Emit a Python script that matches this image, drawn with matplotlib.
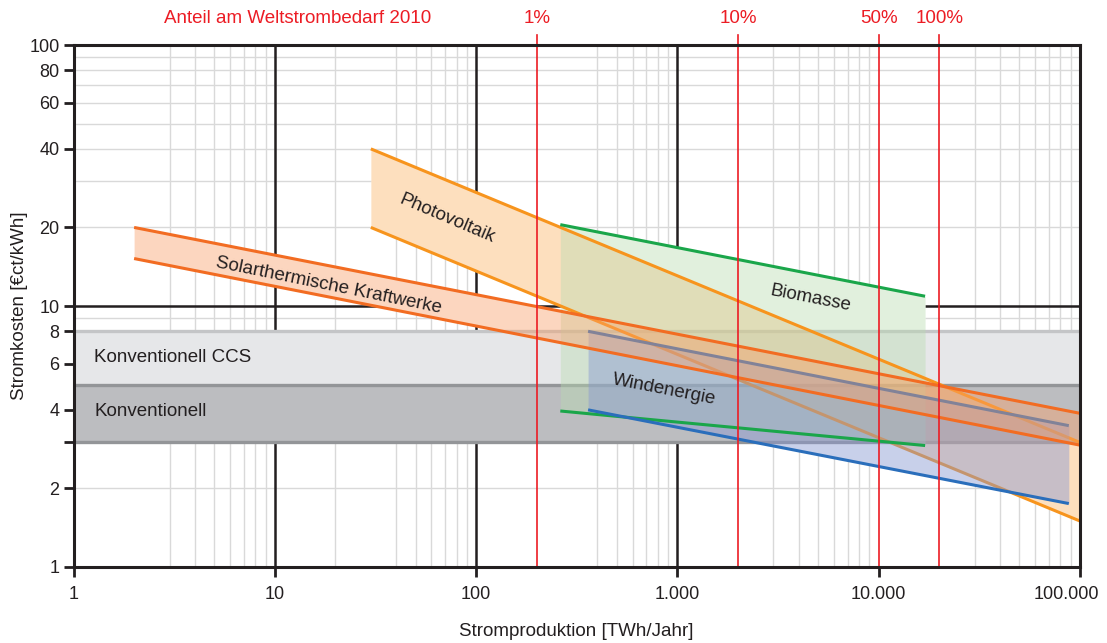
import matplotlib
matplotlib.use("Agg")
import matplotlib.pyplot as plt
import matplotlib.transforms as mtransforms
from matplotlib.ticker import FixedLocator, NullFormatter, NullLocator

plt.rcParams["font.family"] = ["Liberation Sans", "DejaVu Sans"]
plt.rcParams["font.size"] = 13

# Stromproduktion [TWh/Jahr] vs Stromkosten [ct/kWh]
solar_x = [2, 100000]
solar_lo = [15.2, 2.93]
solar_hi = [20.0, 3.88]

pv_x = [30, 100000]
pv_lo = [20.0, 1.5]
pv_hi = [40.0, 3.0]

bio_x = [262, 17000]
bio_lo = [3.96, 2.92]
bio_hi = [20.5, 10.9]

wind_x = [360, 88000]
wind_lo = [4.0, 1.75]
wind_hi = [8.0, 3.48]

ccs_band = [5, 8]
konv_band = [3, 5]

share_x = [200, 2000, 10000, 20000]
share_labels = ["1%", "10%", "50%", "100%"]

xticks = [1, 10, 100, 1000, 10000, 100000]
xtick_labels = ["1", "10", "100", "1.000", "10.000", "100.000"]
yticks = [1, 2, 3, 4, 6, 8, 10, 20, 40, 60, 80, 100]
ytick_labels = ["1", "2", "", "4", "6", "8", "10", "20", "40", "60", "80", "100"]

# light grid lines as drawn in the original (some steps are left out there)
grid_x = ([3, 4, 5, 6, 7, 8, 9] + [20, 40, 50, 60, 70, 80, 90]
          + [400, 500, 600, 700, 800, 900]
          + [3000, 4000, 5000, 6000, 7000, 8000, 9000]
          + [30000, 40000, 50000, 60000, 70000, 80000, 90000])
grid_y = [2, 3, 4, 5, 6, 7, 8, 9, 20, 30, 40, 50, 60, 70, 80, 90]

RED = "#ec1c24"
DARK = "#231f20"
FS = 13.5

fig = plt.figure(figsize=(11.07, 6.43), dpi=100)
ax = fig.add_axes([0.0664, 0.1182, 0.9092, 0.8118])
ax.set_xscale("log")
ax.set_yscale("log")
ax.set_xlim(1, 100000)
ax.set_ylim(1, 100)

for v in grid_x:
    ax.axvline(v, color="#d9d9d9", lw=1.0, zorder=0.5)
for v in grid_y:
    ax.axhline(v, color="#d9d9d9", lw=1.0, zorder=0.5)
# the 10.000 line is covered by the red 50% line
for v in [10, 100, 1000]:
    ax.axvline(v, color=DARK, lw=1.8, zorder=0.6)
ax.axhline(10, color=DARK, lw=1.8, zorder=0.6)

# white underlay: the bands hide the grid but stay see-through to each other
for x, lo, hi in [(pv_x, pv_lo, pv_hi), (bio_x, bio_lo, bio_hi),
                  (wind_x, wind_lo, wind_hi), (solar_x, solar_lo, solar_hi)]:
    ax.fill_between(x, lo, hi, color="white", lw=0, zorder=0.8)

# conventional bands
ax.axhspan(ccs_band[0], ccs_band[1], color="#e6e7e9", lw=0, zorder=1)
ax.axhspan(konv_band[0], konv_band[1], color="#bcbdc0", lw=0, zorder=1)
ax.axhline(ccs_band[1], color="#c4c5c7", lw=2.4, zorder=1.1)
ax.axhline(konv_band[1], color="#939598", lw=2.4, zorder=1.1)
ax.axhline(konv_band[0], color="#939598", lw=2.4, zorder=1.1)
ax.text(1.27, 6.35, "Konventionell CCS", fontsize=FS, color=DARK,
        va="center", zorder=1.2)
ax.text(1.27, 3.95, "Konventionell", fontsize=FS, color=DARK,
        va="center", zorder=1.2)


def fill(x, lo, hi, color, alpha, z):
    ax.fill_between(x, lo, hi, color=color, alpha=alpha, lw=0, zorder=z)


def edges(x, lo, hi, color, z):
    ax.plot(x, lo, color=color, lw=2.2, zorder=z, solid_capstyle="butt")
    ax.plot(x, hi, color=color, lw=2.2, zorder=z, solid_capstyle="butt")


# layering follows the original: PV and biomass fills, PV edges, wind fill,
# biomass and wind edges, then the solar thermal band on top
fill(pv_x, pv_lo, pv_hi, "#fbb466", 0.42, 2.0)
fill(bio_x, bio_lo, bio_hi, "#b9dcb0", 0.42, 2.1)
edges(pv_x, pv_lo, pv_hi, "#f7941d", 2.2)
fill(wind_x, wind_lo, wind_hi, "#8797d2", 0.45, 2.3)
edges(bio_x, bio_lo, bio_hi, "#1aa64a", 2.4)
edges(wind_x, wind_lo, wind_hi, "#2a6ebb", 2.4)
fill(solar_x, solar_lo, solar_hi, "#fa9f68", 0.42, 2.6)
edges(solar_x, solar_lo, solar_hi, "#f26c22", 2.7)

ax.text(72, 21.5, "Photovoltaik", fontsize=FS, color=DARK, rotation=-23,
        ha="center", va="center", rotation_mode="anchor", zorder=5)
ax.text(18.5, 12.0, "Solarthermische Kraftwerke", fontsize=FS, color=DARK,
        rotation=-11.5, ha="center", va="center", rotation_mode="anchor", zorder=5)
ax.text(4600, 10.7, "Biomasse", fontsize=FS, color=DARK, rotation=-11,
        ha="center", va="center", rotation_mode="anchor", zorder=5)
ax.text(860, 4.8, "Windenergie", fontsize=FS, color=DARK, rotation=-11,
        ha="center", va="center", rotation_mode="anchor", zorder=5)

# share of world electricity demand 2010
trans = mtransforms.blended_transform_factory(ax.transData, ax.transAxes)
for x, lab in zip(share_x, share_labels):
    ax.plot([x, x], [0, 1.02], transform=trans, color=RED, lw=1.2,
            clip_on=False, zorder=6)
    ax.text(x, 1.050, lab, transform=trans, color=RED, fontsize=FS,
            ha="center", va="center")
ax.text(13, 1.050, "Anteil am Weltstrombedarf 2010", transform=trans,
        color=RED, fontsize=FS, ha="center", va="center")

# axes styling
for s in ax.spines.values():
    s.set_color(DARK)
    s.set_linewidth(2.2)
    s.set_zorder(7)
ax.xaxis.set_major_locator(FixedLocator(xticks))
ax.set_xticklabels(xtick_labels[:-1] + [""])
ax.xaxis.set_minor_locator(NullLocator())
ax.xaxis.set_minor_formatter(NullFormatter())
ax.yaxis.set_major_locator(FixedLocator(yticks))
ax.set_yticklabels(ytick_labels)
ax.yaxis.set_minor_locator(NullLocator())
ax.yaxis.set_minor_formatter(NullFormatter())
ax.tick_params(axis="both", which="major", direction="out", length=7,
               width=2.0, color=DARK, labelcolor=DARK, labelsize=13)
ax.tick_params(axis="x", pad=7)
ax.tick_params(axis="y", pad=3)

# last x label sits a little left of its tick so it stays inside the figure
ax.annotate(xtick_labels[-1], xy=(xticks[-1], 0), xycoords=trans,
            xytext=(-9.5, -14), textcoords="offset points",
            ha="center", va="top", fontsize=13, color=DARK)

ax.set_xlabel("Stromproduktion [TWh/Jahr]", fontsize=FS, color=DARK, labelpad=14)
ax.set_ylabel("Stromkosten [€ct/kWh]", fontsize=FS, color=DARK, labelpad=1)

fig.savefig("out.png", dpi=100)
